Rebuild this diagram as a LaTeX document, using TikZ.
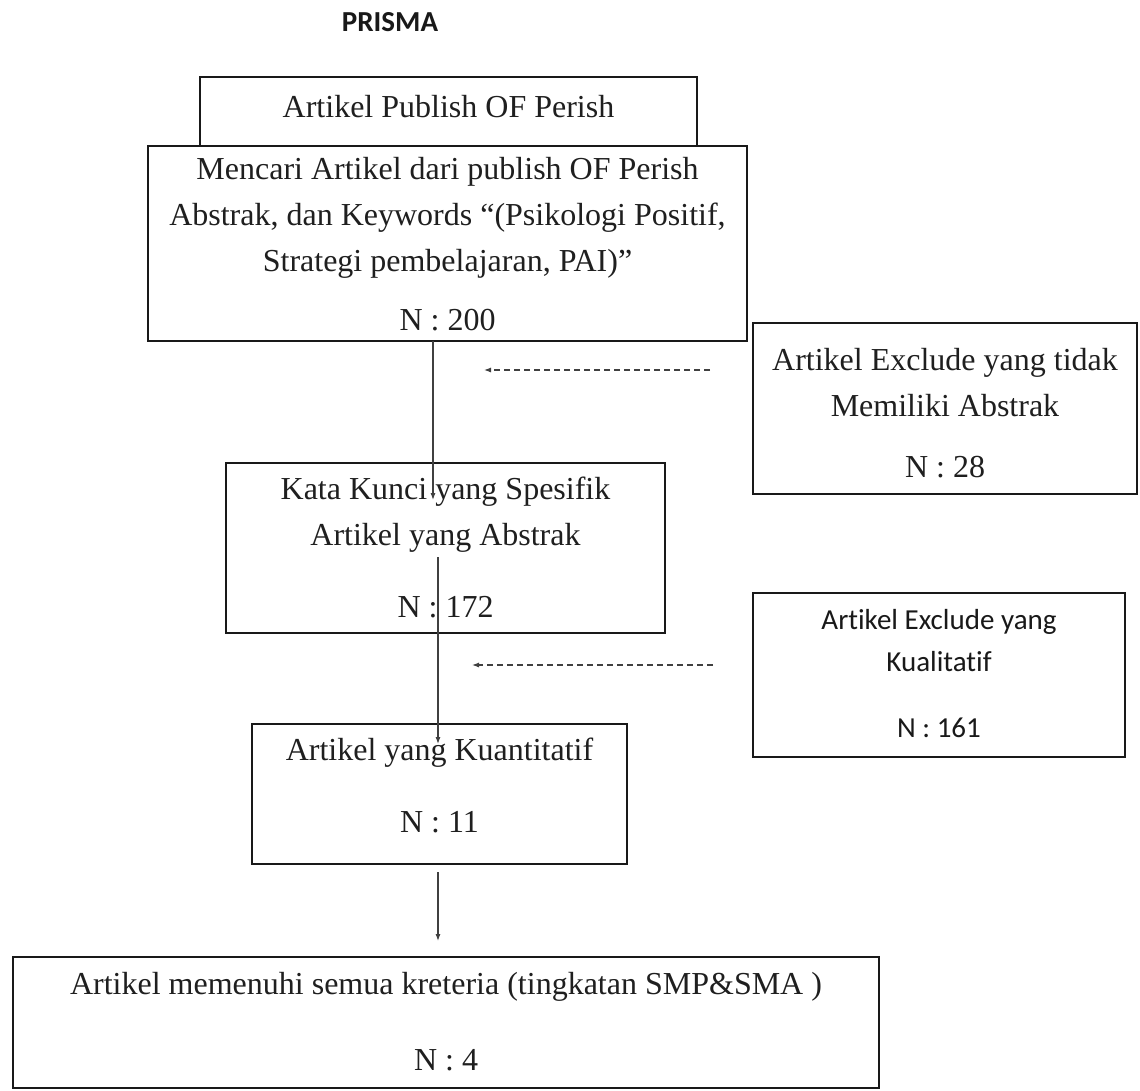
\documentclass[tikz,border=0pt]{standalone}
\usepackage{fontspec}
\setmainfont{Liberation Serif}
\newfontfamily\calib[Ligatures=NoCommon]{Carlito}
\usetikzlibrary{arrows.meta}
\begin{document}
\begin{tikzpicture}[x=1pt,y=-1pt,
  box/.style={draw=black!90,line width=1.8pt,fill=white,inner sep=0pt,outer sep=0pt},
  tx/.style={font=\fontsize{32}{38}\selectfont,text=black!88,inner sep=0pt},
  cx/.style={font=\calib\fontsize{29}{34}\selectfont,text=black!90,inner sep=0pt},
  arr/.style={draw=black!75,line width=1.1pt,-{Latex[length=7pt,width=5pt]}},
  darr/.style={arr,dash pattern=on 6pt off 4pt}]
\useasboundingbox (0,0) rectangle (1140,1090);
\fill[white] (0,0) rectangle (1140,1090);

% title
\node[cx,font=\calib\bfseries\fontsize{29}{34}\selectfont] (title) at (390,22) {PRISMA};

% boxes
\node[box,minimum width=497pt,minimum height=69pt] (b1) at (448.5,111.5) {};
\node[tx] (t1) at (448.5,107) {Artikel Publish OF Perish};

\node[box,minimum width=599pt,minimum height=195pt] (b2) at (447.5,243.5) {};
\node[tx] (t2a) at (447.5,172) {Mencari Artikel dari publish OF Perish};
\node[tx] (t2b) at (447.5,218) {Abstrak, dan Keywords “(Psikologi Positif,};
\node[tx] (t2c) at (447.5,264) {Strategi pembelajaran, PAI)”};
\node[tx] (t2d) at (447.5,320) {N : 200};

\node[box,minimum width=384pt,minimum height=171pt] (b3) at (945,408.5) {};
\node[tx] (t3a) at (945,363) {Artikel Exclude yang tidak};
\node[tx] (t3b) at (945,406) {Memiliki Abstrak};
\node[tx] (t3c) at (945,467) {N : 28};

\node[box,minimum width=439pt,minimum height=170pt] (b4) at (445.5,548) {};
\node[tx] (t4a) at (445.5,492) {Kata Kunci yang Spesifik};
\node[tx] (t4b) at (445.5,538) {Artikel yang Abstrak};
\node[tx] (t4c) at (445.5,607) {N : 172};

\node[box,minimum width=372pt,minimum height=164pt] (b6) at (939,675) {};
\node[cx] (t6a) at (939,622) {Artikel Exclude yang};
\node[cx] (t6b) at (939,662) {Kualitatif};
\node[cx] (t6c) at (939,728) {N : 161};

\node[box,minimum width=375pt,minimum height=140pt] (b5) at (439.5,794) {};
\node[tx] (t5a) at (439.5,753) {Artikel yang Kuantitatif};
\node[tx] (t5b) at (439.5,822) {N : 11};

\node[box,minimum width=866pt,minimum height=131pt] (b7) at (446,1022.5) {};
\node[tx] (t7a) at (446,987) {Artikel memenuhi semua kreteria (tingkatan SMP\&SMA )};
\node[tx] (t7b) at (446,1060) {N : 4};

% connector end points
\coordinate (a1) at (433,500);
\coordinate (b1s) at (438,557);
\coordinate (b1e) at (438,744);
\coordinate (c1s) at (438,872);
\coordinate (c1e) at (438,941);
\coordinate (d1s) at (710,370);
\coordinate (d1e) at (484,370);
\coordinate (d2s) at (713,665);
\coordinate (d2e) at (472,665);

% connectors
\draw[arr] (b2.south -| a1) -- (a1);
\draw[arr] (b1s) -- (b1e);
\draw[arr] (c1s) -- (c1e);
\draw[darr] (d1s) -- (d1e);
\draw[darr] (d2s) -- (d2e);
\end{tikzpicture}
\end{document}
